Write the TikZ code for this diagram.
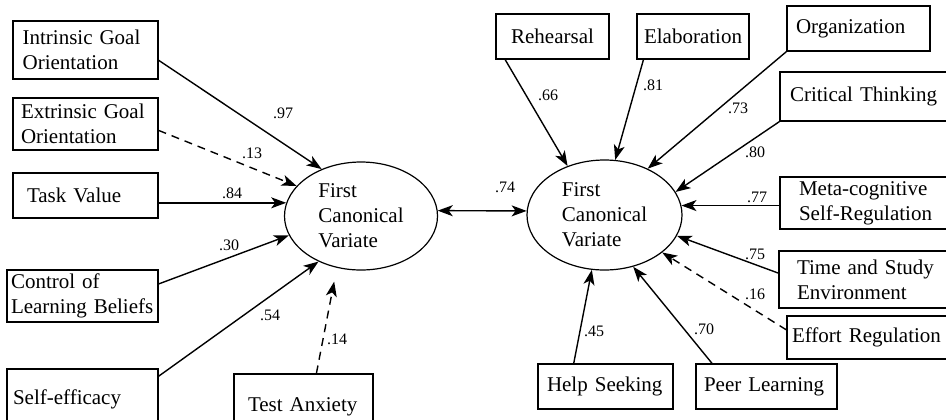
\documentclass[tikz,border=0pt]{standalone}
\usepackage{fontspec}
\setmainfont{Liberation Serif}
\usetikzlibrary{shapes.geometric,arrows.meta}
\tikzset{
  box/.style={draw, line width=0.6pt, rectangle, align=left, inner ysep=0pt,
    font=\fontsize{10.5}{12.5}\selectfont},
  cbox/.style={draw, line width=0.6pt, rectangle, align=center, inner sep=0pt,
    font=\fontsize{10.5}{12.5}\selectfont},
  var/.style={draw, line width=0.6pt, ellipse, inner sep=0pt, align=left,
    font=\fontsize{10.5}{12.5}\selectfont},
  lab/.style={inner sep=0pt, font=\fontsize{8}{9.5}\selectfont},
  arr/.style={line width=0.7pt, -{Stealth[length=7.5pt,width=5.5pt,inset=2pt]}},
  darr/.style={arr, dash pattern=on 4pt off 3pt},
  barr/.style={line width=0.7pt, {Stealth[length=7.5pt,width=5.5pt,inset=2pt]}-{Stealth[length=7.5pt,width=5.5pt,inset=2pt]}}
}
\begin{document}
\begin{tikzpicture}[x=0.5pt,y=-0.5pt]
\useasboundingbox (0,0) rectangle (946,419);
\clip (0,0) rectangle (946,419);
% left side boxes
\node[box, inner xsep=4.8pt, text width=62.9pt, minimum height=29pt] (intr) at (85.5,50) {Intrinsic Goal\\Orientation};
\node[box, inner xsep=4pt, text width=64.5pt, minimum height=26pt] (extr) at (85.5,124) {Extrinsic Goal\\Orientation};
\node[box, inner xsep=7pt, text width=58.5pt, minimum height=22.5pt] (task) at (85.5,195.5) {Task Value};
\node[box, inner xsep=2pt, text width=71.5pt, minimum height=26pt] (ctrl) at (82.5,296) {Control of\\Learning Beliefs};
\node[box, inner xsep=3pt, text width=69.5pt, minimum height=30.5pt] (self) at (82.5,399.5) {Self-efficacy};
\node[box, inner xsep=7pt, text width=55.5pt, minimum height=33pt] (test) at (303.5,407) {Test Anxiety};
% ellipses
\node[var, minimum width=76.5pt, minimum height=54pt] (L) at (361,216) {First\\Canonical\\Variate};
\node[var, minimum width=77.5pt, minimum height=55pt] (R) at (604.5,215) {First\\Canonical\\Variate};
% right side boxes
\node[cbox, minimum width=56.5pt, minimum height=22.5pt] (reh) at (552.5,36.5) {Rehearsal};
\node[cbox, minimum width=56pt, minimum height=22.5pt] (ela) at (693,36.5) {Elaboration};
\node[box, inner xsep=4.5pt, text width=62.5pt, minimum height=22.5pt] (org) at (858.5,28.5) {Organization};
\node[box, inner xsep=5pt, text width=80pt, minimum height=24.5pt] (crit) at (870,96.5) {Critical Thinking};
\node[box, inner xsep=9.5pt, text width=71pt, minimum height=26pt] (meta) at (870,203) {Meta-cognitive\\Self-Regulation};
\node[box, inner xsep=9pt, text width=72.5pt, minimum height=28.5pt] (time) at (869.5,279.5) {Time and Study\\Environment};
\node[box, inner xsep=2.5pt, text width=81.5pt, minimum height=21.5pt] (eff) at (873.5,337.5) {Effort Regulation};
\node[box, inner xsep=4.5pt, text width=58.5pt, minimum height=22.5pt] (help) at (605.5,386.5) {Help Seeking};
\node[box, inner xsep=4pt, text width=62.5pt, minimum height=22.5pt] (peer) at (766.5,386.5) {Peer Learning};
% left connectors
\draw[arr] (intr.-8.5) -- (L.130.8);
\draw[darr] (extr.-5.4) -- (L.155.3);
\draw[arr] (L.170 -| task.east) -- (L.170);
\draw[arr] (ctrl.9) -- (L.195.7);
\draw[arr] (self.17.6) -- (L.227);
\draw[darr, shorten >=7pt] (test.69.6) -- (L.245.6);
% correlation
\draw[barr] (L.4) -- (R.177);
% right connectors
\draw[arr] (reh.206.8) -- (R.127.2);
\draw[arr] (ela.205.6) -- (R.79.6);
\draw[arr] (org.south west) -- (R.47.8);
\draw[arr] (crit.south west) -- (R.18.8);
\draw[arr] (R.7.5 -| meta.west) -- (R.7.5);
\draw[arr] (time.176.3) -- (R.-16.7);
\draw[darr] (eff.175.4) -- (R.-33.7);
\draw[arr] (help.144.5) -- (R.257.1);
\draw[arr] (peer.157.2) -- (R.-61.4);
% labels
\node[lab] (n97) at (283,113) {.97};
\node[lab] (n13) at (252,153) {.13};
\node[lab] (n84) at (232,193) {.84};
\node[lab] (n30) at (229,245) {.30};
\node[lab] (n54) at (270,315) {.54};
\node[lab] (n14) at (337,339) {.14};
\node[lab] (n74) at (505,187) {.74};
\node[lab] (n66) at (548,95) {.66};
\node[lab] (n81) at (653,85) {.81};
\node[lab] (n73) at (738,108) {.73};
\node[lab] (n80) at (755,152) {.80};
\node[lab] (n77) at (757,197) {.77};
\node[lab] (n75) at (755,254) {.75};
\node[lab] (n16) at (755,294) {.16};
\node[lab] (n45) at (594,331) {.45};
\node[lab] (n70) at (704,329) {.70};
\end{tikzpicture}
\end{document}
